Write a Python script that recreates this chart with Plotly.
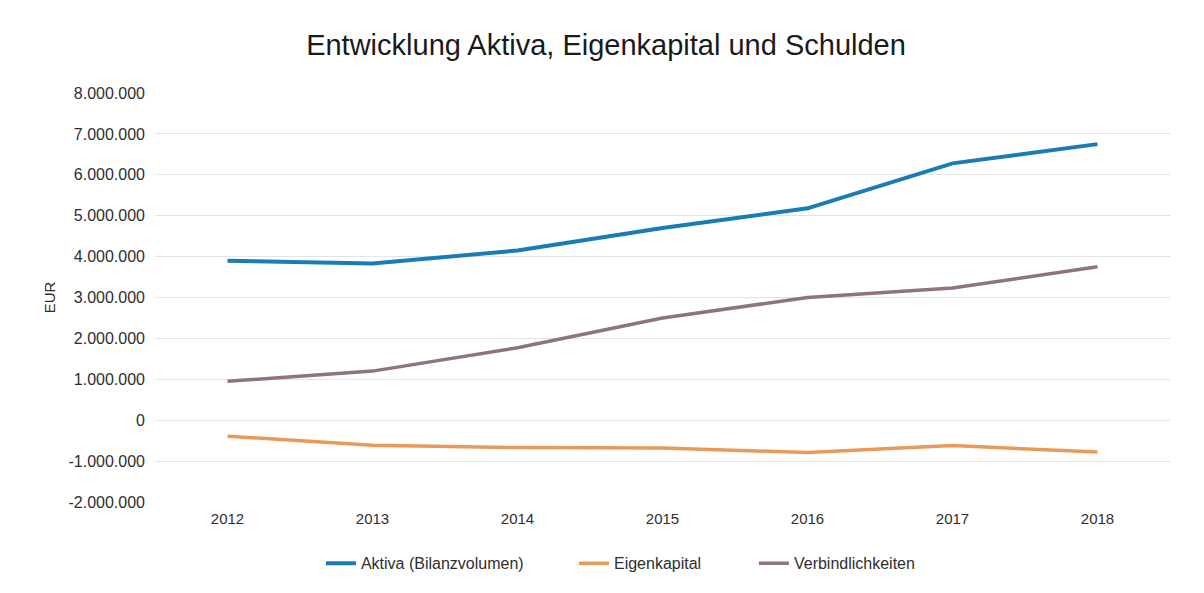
import plotly.graph_objects as go

# Jahre und Werte (EUR)
years = ["2012", "2013", "2014", "2015", "2016", "2017", "2018"]
aktiva = [3900000, 3830000, 4150000, 4700000, 5180000, 6280000, 6750000]
eigenkapital = [-390000, -610000, -670000, -680000, -790000, -620000, -780000]
verbindlichkeiten = [950000, 1200000, 1770000, 2500000, 3000000, 3230000, 3750000]

y_ticks = list(range(-2000000, 8000001, 1000000))
y_labels = ["{:,}".format(v).replace(",", ".") for v in y_ticks]

fig = go.Figure()
fig.add_trace(go.Scatter(x=years, y=aktiva, mode="lines", name="Aktiva (Bilanzvolumen)",
                         line=dict(color="#1b7bb3", width=4), legend="legend"))
fig.add_trace(go.Scatter(x=years, y=eigenkapital, mode="lines", name="Eigenkapital",
                         line=dict(color="#e99a58", width=3.5), legend="legend2"))
fig.add_trace(go.Scatter(x=years, y=verbindlichkeiten, mode="lines", name="Verbindlichkeiten",
                         line=dict(color="#8f7380", width=3.5), legend="legend3"))

leg = dict(orientation="h", xanchor="left", y=-0.15, yanchor="middle",
           font=dict(size=16, color="#2e2e2e"), bgcolor="rgba(0,0,0,0)")

# the page adds an 8px body margin, so the figure is a bit smaller than the window
fig.update_layout(
    width=1196, height=585,
    paper_bgcolor="white", plot_bgcolor="white",
    margin=dict(l=147, r=34, t=85, b=91),
    font=dict(family="Liberation Sans, Arial, sans-serif", color="#2e2e2e"),
    title=dict(text="Entwicklung Aktiva, Eigenkapital und Schulden", x=0.5, xanchor="center",
               y=0.937, yanchor="middle", font=dict(size=29, color="#1a1a1a")),
    legend=dict(leg, x=0.1635),
    legend2=dict(leg, x=0.4128),
    legend3=dict(leg, x=0.5901),
    showlegend=True,
)
fig.update_xaxes(type="category", range=[-0.5, 6.5], showgrid=False, showline=False,
                 ticks="", tickfont=dict(size=15), ticklabelstandoff=6)
fig.update_yaxes(range=[-2000000, 8000000], tickvals=y_ticks, ticktext=y_labels,
                 showgrid=True, gridcolor="#e3e3e3", gridwidth=1, zeroline=False,
                 tickfont=dict(size=16), ticklabelstandoff=9,
                 title=dict(text="EUR", font=dict(size=15), standoff=9))

fig.write_html("out.html")
